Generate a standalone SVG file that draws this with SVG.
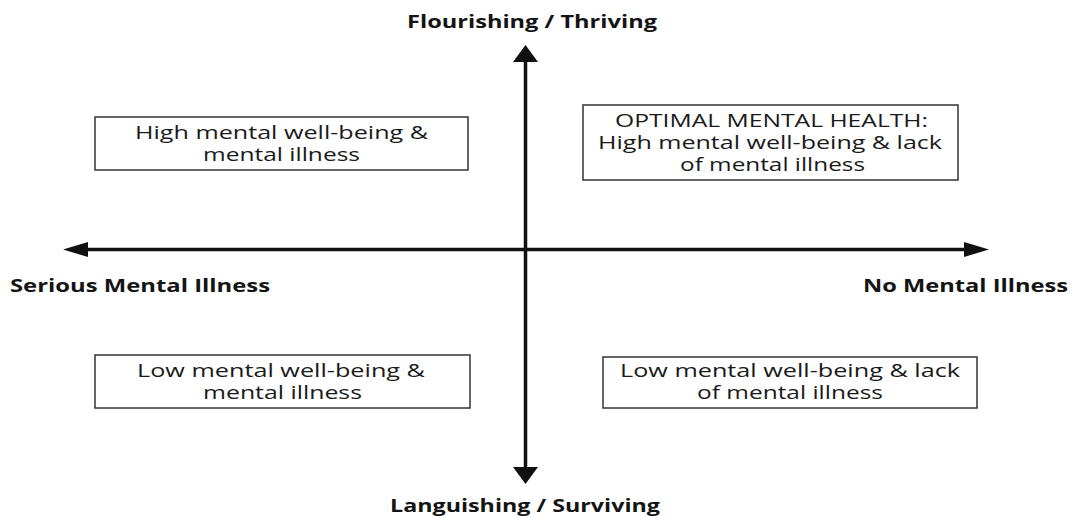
<svg xmlns="http://www.w3.org/2000/svg" width="1074" height="516" viewBox="0 0 1074 516">
  <style>
    .box { fill: #ffffff; stroke: #333333; stroke-width: 1.5; }
    .body { font-family: "Open Sans", "Liberation Sans", sans-serif; font-size: 18px; fill: #1a1a1a; text-anchor: middle; }
    .pole { font-family: "Open Sans", "Liberation Sans", sans-serif; font-size: 17px; font-weight: bold; fill: #141414; text-anchor: middle; }
    .axis { stroke: #111111; stroke-width: 3.5; fill: none; }
    .head { fill: #111111; }
  </style>
  <defs>
    <!-- vertical axis heads are short and wide, horizontal ones long and narrow -->
    <marker id="head-v" viewBox="0 0 17 25" refX="1" refY="12.5" markerWidth="17" markerHeight="25" markerUnits="userSpaceOnUse" orient="auto">
      <polygon class="head" points="0,0 17,12.5 0,25"/>
    </marker>
    <marker id="head-h" viewBox="0 0 25 15" refX="1" refY="7.5" markerWidth="25" markerHeight="15" markerUnits="userSpaceOnUse" orient="auto">
      <polygon class="head" points="0,0 25,7.5 0,15"/>
    </marker>
  </defs>
  <rect width="1074" height="516" fill="#ffffff"/>

  <!-- axes -->
  <g id="connectors">
    <line class="axis" x1="525.5" y1="249.5" x2="525.5" y2="61" marker-end="url(#head-v)"/>
    <line class="axis" x1="525.5" y1="249.5" x2="525.5" y2="468" marker-end="url(#head-v)"/>
    <line class="axis" x1="525.5" y1="249.5" x2="87" y2="249.5" marker-end="url(#head-h)"/>
    <line class="axis" x1="525.5" y1="249.5" x2="965" y2="249.5" marker-end="url(#head-h)"/>
  </g>

  <!-- pole labels -->
  <g id="label-top"><text class="pole" x="532" y="28" textLength="250" lengthAdjust="spacingAndGlyphs">Flourishing / Thriving</text></g>
  <g id="label-bottom"><text class="pole" x="525" y="512" textLength="270" lengthAdjust="spacingAndGlyphs">Languishing / Surviving</text></g>
  <g id="label-left"><text class="pole" x="140" y="292" textLength="260" lengthAdjust="spacingAndGlyphs">Serious Mental Illness</text></g>
  <g id="label-right"><text class="pole" x="965.5" y="292" textLength="205" lengthAdjust="spacingAndGlyphs">No Mental Illness</text></g>

  <!-- quadrants -->
  <g id="q-top-left">
    <rect class="box" x="95" y="117" width="373" height="53"/>
    <text class="body" x="281.5" y="139" textLength="293" lengthAdjust="spacingAndGlyphs">High mental well-being &amp;</text>
    <text class="body" x="281.5" y="161" textLength="157" lengthAdjust="spacingAndGlyphs">mental illness</text>
  </g>
  <g id="q-top-right">
    <rect class="box" x="583" y="105" width="375" height="75"/>
    <text class="body" x="771.5" y="127" textLength="313" lengthAdjust="spacingAndGlyphs">OPTIMAL MENTAL HEALTH:</text>
    <text class="body" x="770" y="149" textLength="344" lengthAdjust="spacingAndGlyphs">High mental well-being &amp; lack</text>
    <text class="body" x="772.5" y="171" textLength="185" lengthAdjust="spacingAndGlyphs">of mental illness</text>
  </g>
  <g id="q-bottom-left">
    <rect class="box" x="95" y="355" width="375" height="53"/>
    <text class="body" x="281" y="377" textLength="288" lengthAdjust="spacingAndGlyphs">Low mental well-being &amp;</text>
    <text class="body" x="282.5" y="399" textLength="159" lengthAdjust="spacingAndGlyphs">mental illness</text>
  </g>
  <g id="q-bottom-right">
    <rect class="box" x="603" y="357" width="374" height="51"/>
    <text class="body" x="790" y="377" textLength="340" lengthAdjust="spacingAndGlyphs">Low mental well-being &amp; lack</text>
    <text class="body" x="790" y="399" textLength="186" lengthAdjust="spacingAndGlyphs">of mental illness</text>
  </g>
</svg>
